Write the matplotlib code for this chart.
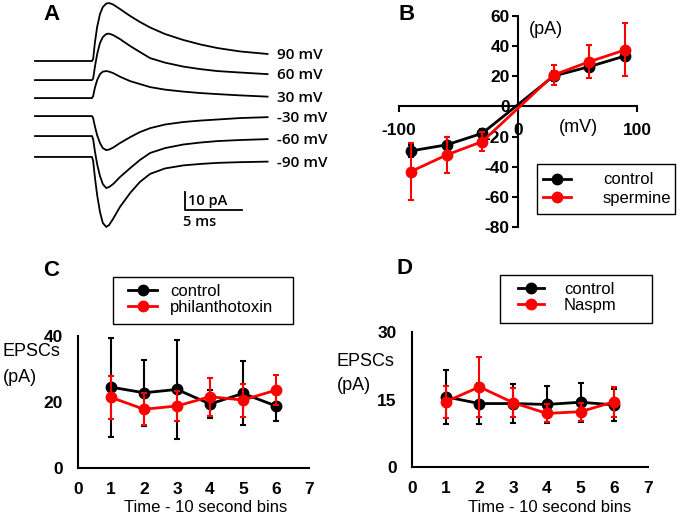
import matplotlib
matplotlib.use("Agg")
import matplotlib.pyplot as plt
from matplotlib.patches import Rectangle
import numpy as np

W, H = 682, 516
plt.rcParams['axes.unicode_minus'] = False

# ---- panel A: example EPSC traces (pA vs ms) ----
trace_t = [0, 5.0, 5.1, 5.25, 5.45, 5.7, 5.95, 6.25, 6.5, 6.85, 7.45, 8.35,
           9.2, 10.1, 11.4, 13.0, 14.5, 16.0, 18.0, 20.4]
trace_labels = ['90 mV', '60 mV', '30 mV', '-30 mV', '-60 mV', '-90 mV']
trace_90 = [0, 0, 1.1, 10, 18.9, 26.1, 30, 31.9, 32.2, 31.4, 28.9, 25, 21.7,
            18.6, 15, 11.7, 9.2, 7.2, 5.3, 3.9]
trace_60 = [0, 0, 0.8, 7.2, 14.4, 20.6, 23.9, 25.6, 25.8, 25, 22.8, 18.9, 15.6,
            12.2, 9.7, 7.5, 6.1, 5, 4.2, 3.3]
trace_30 = [0, 0, 1.1, 5.6, 10, 13.3, 14.7, 15, 14.7, 13.9, 11.9, 9.4, 7.8,
            6.1, 4.7, 3.6, 2.8, 2.2, 1.5, 0.8]
trace_m30 = [0, 0, -1.1, -5.6, -10.6, -15, -17.8, -18.9, -18.6, -17.5, -15,
             -11.7, -8.9, -6.7, -4.7, -3.3, -2.5, -1.9, -1.1, -0.6]
trace_m60 = [0, 0, -1.7, -8.3, -15.6, -22.2, -26.7, -28.9, -28.3, -26.7, -22.8,
             -17.8, -13.3, -9.4, -6.7, -4.7, -3.6, -2.8, -2.2, -1.7]
trace_m90 = [0, 0, -2.2, -11.1, -21.1, -30.6, -36.7, -38.9, -37.8, -34.4, -27.8,
             -20, -13.9, -9.4, -6.4, -4.7, -3.9, -3.3, -2.9, -2.6]
trace_offsets = [0, -10.6, -20.6, -30.6, -41.7, -53.3]

# ---- panel B: I-V ----
volts = [-90, -60, -30, 30, 60, 90]
iv_control = [-29.5, -25.5, -17.8, 20.2, 26.4, 33.5]
iv_control_err = [4, 5.5, 3, 3, 3, 3]
iv_spermine = [-43.2, -32.2, -23.3, 20.9, 29.7, 37.5]
iv_spermine_err = [19, 12, 6.5, 6.7, 11, 17.6]

# ---- panels C and D: time course ----
bins = [1, 2, 3, 4, 5, 6]
c_control = [24.5, 22.8, 23.8, 19.4, 22.6, 18.8]
c_control_err = [15, 10, 15, 4.3, 9.7, 4.6]
c_philan = [21.4, 17.8, 18.8, 21.6, 20.6, 23.6]
c_philan_err = [6.5, 4.8, 4.5, 5.8, 5, 4.6]
d_control = [15.6, 14.1, 14.1, 13.9, 14.4, 13.8]
d_control_err = [6, 4.5, 4.4, 4.2, 4.3, 3.6]
d_naspm = [14.5, 17.8, 14.3, 11.9, 12.3, 14.5]
d_naspm_err = [3.5, 6.6, 3.2, 2, 2, 3.3]

SANS = 'Liberation Sans'
RED = '#ff0000'
TICK = dict(family=SANS, size=12.5, weight='bold')


def px_axes(fig, x0, y0, x1, y1):
    return fig.add_axes([x0 / W, 1 - y1 / H, (x1 - x0) / W, (y1 - y0) / H])


def draw_pair(ax, x, y1, e1, y2, e2):
    ax.errorbar(x, y1, yerr=e1, color='k', lw=2, ms=7.5, marker='o',
                elinewidth=1.5, capsize=2.5, capthick=1.5, zorder=3)
    ax.errorbar(x, y2, yerr=e2, color=RED, lw=2, ms=7.5, marker='o',
                elinewidth=1.5, capsize=2.5, capthick=1.5, zorder=4)


def leg(fig, labels, box, hx, hlen, gap, ymid, spacing):
    # excel style legend: loose box drawn separately
    fs = 12
    fpx = fs * 100 / 72
    h = [plt.Line2D([], [], color='k', lw=2, marker='o', ms=7.5),
         plt.Line2D([], [], color=RED, lw=2, marker='o', ms=7.5)]
    l = fig.legend(h, labels, loc='center left', bbox_to_anchor=(hx / W, 1 - ymid / H),
                   frameon=False, borderpad=0, borderaxespad=0,
                   handlelength=hlen / fpx, handletextpad=gap / fpx,
                   labelspacing=spacing, prop={'family': SANS, 'size': fs})
    x0, y0, x1, y1 = box
    fig.patches.append(Rectangle((x0 / W, 1 - y1 / H), (x1 - x0) / W, (y1 - y0) / H,
                                 transform=fig.transFigure, fill=False,
                                 edgecolor='k', lw=1.0))
    return l


def bin_axes(ax, ymax, yticks):
    ax.set_xlim(0, 7)
    ax.set_ylim(0, ymax)
    for s in ['top', 'right']:
        ax.spines[s].set_visible(False)
    for s in ['left', 'bottom']:
        ax.spines[s].set_linewidth(1.5)
    ax.set_xticks(range(8))
    ax.set_yticks(yticks)
    ax.tick_params(axis='x', length=0, pad=10)
    ax.tick_params(axis='y', length=0, pad=11)
    for t in ax.get_xticklabels() + ax.get_yticklabels():
        t.set(**TICK)
    ax.patch.set_alpha(0)


def main():
    fig = plt.figure(figsize=(W / 100, H / 100), dpi=100)

    # A
    ax = px_axes(fig, 0, 0, 341, 245)
    ax.set_xlim(-35 / 11.4, (341 - 35) / 11.4)
    ax.set_ylim((61 - 245) / 1.8, 61 / 1.8)
    ax.axis('off')
    traces = [trace_90, trace_60, trace_30, trace_m30, trace_m60, trace_m90]
    for tr, off, lab in zip(traces, trace_offsets, trace_labels):
        y = np.array(tr) + off
        ax.plot(trace_t, y, color='k', lw=1.3, clip_on=False)
        ax.text(trace_t[-1] + 0.8, y[-1] - 0.5, lab, ha='left', va='center',
                fontsize=11, family='Open Sans', weight='semibold')
    sx, sy = 13.2, -82.8
    ax.plot([sx, sx, sx + 5], [sy + 10, sy, sy], color='k', lw=1.3)
    ax.text(sx + 0.2, sy + 5.2, '10 pA', ha='left', va='center', fontsize=10.5,
            family='Open Sans', weight='semibold')
    ax.text(sx - 0.2, sy - 6.8, '5 ms', ha='left', va='center', fontsize=10.5,
            family='Open Sans', weight='semibold')

    # B
    ax = px_axes(fig, 399, 16, 637, 227)
    ax.set_xlim(-100, 100)
    ax.set_ylim(-80, 60)
    ax.spines['top'].set_visible(False)
    ax.spines['right'].set_visible(False)
    ax.spines['left'].set_position(('data', 0))
    ax.spines['bottom'].set_position(('data', 0))
    for s in ['left', 'bottom']:
        ax.spines[s].set_linewidth(1.5)
    ax.set_xticks([-100, 0, 100])
    ax.set_yticks(range(-80, 61, 20))
    ax.tick_params(axis='x', direction='out', length=4, width=1.5, pad=8)
    ax.tick_params(axis='y', direction='out', length=4, width=1.5, pad=2)
    for t in ax.get_xticklabels() + ax.get_yticklabels():
        t.set(**TICK)
    ax.patch.set_alpha(0)
    draw_pair(ax, volts, iv_control, iv_control_err, iv_spermine, iv_spermine_err)
    ax.text(23.5, 50.8, '(pA)', ha='center', va='center', fontsize=13, family=SANS)
    ax.text(50.4, -14.3, '(mV)', ha='center', va='center', fontsize=13, family=SANS)
    leg(fig, ['control', 'spermine'], (537, 164, 675, 214), 543, 28, 32, 189, 0.2)

    # C
    ax = px_axes(fig, 78, 336, 309, 468)
    bin_axes(ax, 40, [0, 20, 40])
    draw_pair(ax, bins, c_control, c_control_err, c_philan, c_philan_err)
    leg(fig, ['control', 'philanthotoxin'], (113, 277, 293, 324), 128, 29, 13, 299.5, 0.05)
    fig.text(3 / W, 1 - 352 / H, 'EPSCs', ha='left', va='center', fontsize=13, family=SANS)
    fig.text(3 / W, 1 - 377 / H, '(pA)', ha='left', va='center', fontsize=13, family=SANS)
    fig.text(206 / W, 1 - 507 / H, 'Time - 10 second bins', ha='center', va='center',
             fontsize=12, family=SANS)

    # D
    ax = px_axes(fig, 412, 332, 648, 467)
    bin_axes(ax, 30, [0, 15, 30])
    draw_pair(ax, bins, d_control, d_control_err, d_naspm, d_naspm_err)
    leg(fig, ['control', 'Naspm'], (500, 275, 652, 323), 518, 26, 20, 297.5, 0.05)
    fig.text(337 / W, 1 - 362 / H, 'EPSCs', ha='left', va='center', fontsize=13, family=SANS)
    fig.text(337 / W, 1 - 385 / H, '(pA)', ha='left', va='center', fontsize=13, family=SANS)
    fig.text(550 / W, 1 - 508 / H, 'Time - 10 second bins', ha='center', va='center',
             fontsize=12, family=SANS)

    # panel letters
    for lab, x, y in [('A', 43, 15), ('B', 399, 15), ('C', 43, 270), ('D', 396, 269)]:
        fig.text(x / W, 1 - y / H, lab, ha='left', va='center', fontsize=16,
                 weight='bold', family=SANS)

    fig.savefig('out.png', dpi=100)


if __name__ == '__main__':
    main()
